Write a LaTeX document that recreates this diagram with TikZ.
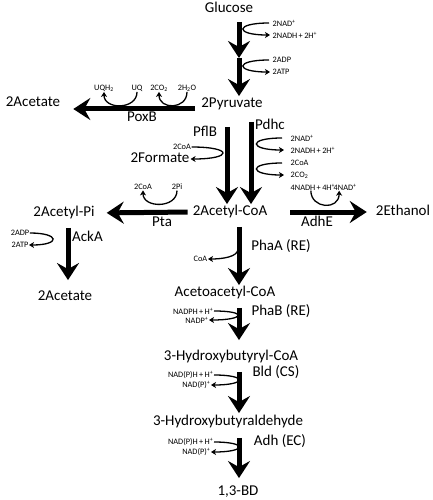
\documentclass[tikz,border=0pt]{standalone}
\usepackage{fontspec}
\setmainfont{Carlito}
\usepackage{tikz}
\usetikzlibrary{arrows.meta, positioning, calc}
\tikzset{
  metab/.style={font=\fontsize{15}{17}\selectfont, inner sep=1pt, text height=10.5pt, text depth=3pt},
  enzlab/.style={metab},
  cofac/.style={font=\fontsize{8.3}{9}\selectfont, inner sep=0.5pt},
  mainarr/.style={-{Stealth[length=17pt, width=22pt, inset=6pt]}, line width=5pt},
  sidearr/.style={-{Stealth[length=5pt, width=6pt, inset=1.5pt]}, line width=1.3pt},
}

\begin{document}
\begin{tikzpicture}[x=1pt, y=-1pt]
  \useasboundingbox (0,0) rectangle (432,500);
  \coordinate (ax) at (239,0);
  \coordinate (pflx) at (227,0);
  \coordinate (pdhx) at (251,0);
  \coordinate (ackx) at (68,0);

  % metabolites
  \node[metab] (glc) at (229,9) {Glucose};
  \node[metab] (pyr) at (232,104) {2Pyruvate};
  \node[metab] (ace1) at (33,103) {2Acetate};
  \node[metab] (form) at (160,159) {2Formate};
  \node[metab] (acoa) at (230,212) {2Acetyl-CoA};
  \node[metab] (acpi) at (64,213) {2Acetyl-Pi};
  \node[metab] (etoh) at (403,212) {2Ethanol};
  \node[metab] (ace2) at (65,297) {2Acetate};
  \node[metab] (aacoa) at (225,293) {Acetoacetyl-CoA};
  \node[metab] (hbcoa) at (231,357) {3-Hydroxybutyryl-CoA};
  \node[metab] (hbald) at (228,422) {3-Hydroxybutyraldehyde};
  \node[metab] (bd) at (238,492) {1,3-BD};

  % enzymes
  \node[enzlab] (poxb) at (142,118) {PoxB};
  \node[enzlab] (pflb) at (205,133) {PflB};
  \node[enzlab] (pdhc) at (270,126) {Pdhc};
  \node[enzlab] (pta) at (162,223) {Pta};
  \node[enzlab] (adhe) at (317,223) {AdhE};
  \node[enzlab, anchor=west] (acka) at (71,238) {AckA};
  \node[enzlab] (phaa) at (281,247) {PhaA (RE)};
  \node[enzlab] (phab) at (281,312) {PhaB (RE)};
  \node[enzlab] (bld) at (276,373) {Bld (CS)};
  \node[enzlab] (adh) at (280,442) {Adh (EC)};

  % cofactors
  \node[cofac, anchor=west] (nad1) at (272,23) {2NAD\textsuperscript{+}};
  \node[cofac, anchor=west] (nadh1) at (272,35) {2NADH\,+\,2H\textsuperscript{+}};
  \node[cofac, anchor=west] (adp1) at (272,60) {2ADP};
  \node[cofac, anchor=west] (atp1) at (272,72) {2ATP};
  \node[cofac] (uqh) at (104,88) {UQH\textsubscript{2}};
  \node[cofac] (uq) at (137,88) {UQ};
  \node[cofac] (co2a) at (159,88) {2CO\textsubscript{2}};
  \node[cofac] (hoh) at (187,88) {2H\textsubscript{2}O};
  \node[cofac] (coa2) at (182,147) {2CoA};
  \node[cofac, anchor=west] (nad2) at (290,138) {2NAD\textsuperscript{+}};
  \node[cofac, anchor=west] (nadh2) at (290,150) {2NADH\,+\,2H\textsuperscript{+}};
  \node[cofac, anchor=west] (coa3) at (290,163) {2CoA};
  \node[cofac, anchor=west] (co2b) at (290,175) {2CO\textsubscript{2}};
  \node[cofac, anchor=west] (nadh4) at (290,187) {4NADH\,+\,4H\textsuperscript{+}};
  \node[cofac, anchor=west] (nad4) at (333,187) {4NAD\textsuperscript{+}};
  \node[cofac] (coa4) at (143,187) {2CoA};
  \node[cofac] (pi) at (177,187) {2Pi};
  \node[cofac] (adp2) at (20,233) {2ADP};
  \node[cofac] (atp2) at (20,245) {2ATP};
  \node[cofac, anchor=east] (coa1) at (208,259) {CoA};
  \node[cofac, anchor=east] (nadph) at (214,311) {NADPH\,+\,H\textsuperscript{+}};
  \node[cofac, anchor=east] (nadp) at (209,320) {NADP\textsuperscript{+}};
  \node[cofac, anchor=east] (nadph2) at (214,375) {NAD(P)H\,+\,H\textsuperscript{+}};
  \node[cofac, anchor=east] (nadp2) at (211,385) {NAD(P)\textsuperscript{+}};
  \node[cofac, anchor=east] (nadph3) at (214,442) {NAD(P)H\,+\,H\textsuperscript{+}};
  \node[cofac, anchor=east] (nadp3) at (211,452) {NAD(P)\textsuperscript{+}};

  \coordinate (glcmid) at (239,58);
  \coordinate (phac) at (238,249);

  % main flux
  \draw[mainarr, shorten <=5pt] (glc.south -| ax) -- (glcmid);
  \draw[mainarr] (glcmid) -- (pyr.north -| ax);
  \draw[mainarr, shorten <=5pt, shorten >=12pt] ([yshift=-5pt]pyr.west) -- ([yshift=-6pt]ace1.east);
  \draw[mainarr, shorten <=15pt] (pyr.south -| pflx) -- (acoa.north -| pflx);
  \draw[mainarr, shorten <=10pt] (pyr.south -| pdhx) -- (acoa.north -| pdhx);
  \draw[mainarr, shorten <=4pt, shorten >=11pt] (acoa.west) -- (acpi.east);
  \draw[mainarr, shorten <=22pt, shorten >=8pt] (acoa.east) -- (etoh.west);
  \draw[mainarr, shorten <=7pt, shorten >=9pt] (acpi.south -| ackx) -- (ace2.north -| ackx);
  \draw[mainarr, shorten <=7pt] (acoa.south -| ax) -- (aacoa.north -| ax);
  \draw[mainarr, shorten <=7pt, shorten >=9pt] (aacoa.south -| ax) -- (hbcoa.north -| ax);
  \draw[mainarr, shorten <=7pt, shorten >=1pt] (hbcoa.south -| ax) -- (hbald.north -| ax);
  \draw[mainarr, shorten <=8pt, shorten >=6pt] (hbald.south -| ax) -- (bd.north -| ax);

  % cofactor turns
  \draw[sidearr] ([xshift=-3pt]nad1.west) .. controls +(-35,0) and +(-35,0) .. ([xshift=-2pt]nadh1.west);
  \draw[sidearr] ([xshift=-3pt]adp1.west) .. controls +(-35,0) and +(-35,0) .. ([xshift=-2pt]atp1.west);
  \draw[sidearr] (uq.south) .. controls +(0,18) and +(0,18) .. (uqh.south);
  \draw[sidearr] (hoh.south) .. controls +(0,18) and +(0,18) .. (co2a.south);
  \draw[sidearr] (coa2.east) .. controls +(42,0) and +(42,0) .. (form.east);
  \draw[sidearr] ([xshift=-8pt]nad2.west) .. controls +(-35,0) and +(-35,0) .. ([xshift=-6pt]nadh2.west);
  \draw[sidearr] ([xshift=-8pt]coa3.west) .. controls +(-35,0) and +(-35,0) .. ([xshift=-6pt]co2b.west);
  \draw[sidearr] (pi.south) .. controls +(0,18) and +(0,18) .. (coa4.south);
  \draw[sidearr] ([xshift=-2pt]nadh4.south) .. controls +(0,18) and +(0,20) .. ([xshift=-6pt]nad4.south);
  \draw[sidearr] (adp2.east) .. controls +(30,0) and +(32,0) .. (atp2.east);
  \draw[sidearr] (phac) .. controls +(0,8) and +(14,0) .. (coa1.east);
  \draw[sidearr] (nadph.east) .. controls +(34,0) and +(36,0) .. (nadp.east);
  \draw[sidearr] (nadph2.east) .. controls +(34,0) and +(36,0) .. (nadp2.east);
  \draw[sidearr] (nadph3.east) .. controls +(34,0) and +(36,0) .. (nadp3.east);
\end{tikzpicture}
\end{document}
